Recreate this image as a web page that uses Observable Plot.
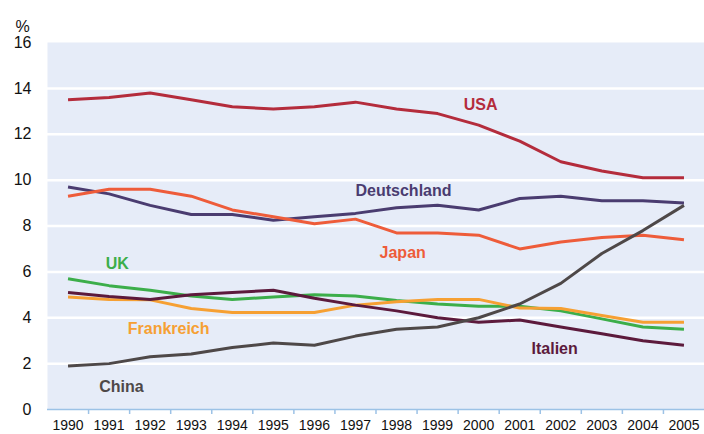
<!DOCTYPE html>
<html>
<head>
<meta charset="utf-8">
<script src="https://cdn.jsdelivr.net/npm/d3@7"></script>
<script src="https://cdn.jsdelivr.net/npm/@observablehq/plot@0.6"></script>
<style>
  html, body { margin: 0; padding: 0; background: #fff; }
  svg { font-family: "Liberation Sans", Arial, sans-serif; }
</style>
</head>
<body>
<div id="chart"></div>
<script>
const years = [1990,1991,1992,1993,1994,1995,1996,1997,1998,1999,2000,2001,2002,2003,2004,2005];
const usa         = [13.5,13.6,13.8,13.5,13.2,13.1,13.2,13.4,13.1,12.9,12.4,11.7,10.8,10.4,10.1,10.1];
const deutschland = [9.7,9.4,8.9,8.5,8.5,8.25,8.4,8.55,8.8,8.9,8.7,9.2,9.3,9.1,9.1,9.0];
const japan       = [9.3,9.6,9.6,9.3,8.7,8.4,8.1,8.3,7.7,7.7,7.6,7.0,7.3,7.5,7.6,7.4];
const uk          = [5.7,5.4,5.2,4.95,4.8,4.9,5.0,4.95,4.75,4.6,4.5,4.5,4.3,3.95,3.6,3.5];
const frankreich  = [4.9,4.8,4.78,4.4,4.23,4.23,4.23,4.55,4.7,4.8,4.8,4.42,4.4,4.1,3.8,3.8];
const italien     = [5.1,4.93,4.8,5.0,5.1,5.2,4.85,4.55,4.3,4.0,3.8,3.9,3.6,3.3,3.0,2.8];
const china       = [1.9,2.0,2.3,2.42,2.7,2.9,2.8,3.2,3.5,3.6,4.0,4.6,5.5,6.8,7.8,8.9];

const seriesNames  = ["USA","Deutschland","Japan","UK","Frankreich","Italien","China"];
const seriesValues = [usa, deutschland, japan, uk, frankreich, italien, china];
const seriesColors = ["#b42c3c","#4a3c70","#ee5c3a","#3cae4a","#f6a033","#5c1a3c","#4e4848"];

// label anchors (year, value) per series
const labelYears  = [2000.05, 1998.17, 1998.15, 1991.2, 1992.45, 2001.85, 1991.3];
const labelValues = [13.3, 9.55, 6.85, 6.35, 3.5, 2.65, 1.0];

const yTicks = [0,2,4,6,8,10,12,14,16];
const gridValues = [2,4,6,8,10,12,14];

const rows = seriesNames.flatMap((name, i) =>
  years.map((year, j) => ({name, year, value: seriesValues[i][j]})));
const labels = seriesNames.map((name, i) => ({name, x: labelYears[i], y: labelValues[i]}));
const boundaries = years.slice(0, -1).map(y => y + 0.5);

const chart = Plot.plot({
  width: 704,
  height: 434,
  marginTop: 42,
  marginBottom: 25,
  marginLeft: 47,
  marginRight: 0,
  style: {fontFamily: '"Liberation Sans", Arial, sans-serif', background: "#fff", overflow: "visible"},
  x: {domain: [1989.5, 2005.5]},
  y: {domain: [0, 16]},
  color: {domain: seriesNames, range: seriesColors},
  marks: [
    Plot.frame({fill: "#e6ecf8", stroke: null}),
    Plot.ruleY(gridValues, {stroke: "#ffffff", strokeWidth: 2.5}),
    Plot.ruleY([0], {stroke: "#9cc2e6", strokeWidth: 1.5}),
    Plot.axisX(boundaries, {tickSize: 5, tickFormat: () => "", stroke: "#9cc2e6", strokeWidth: 1.5, label: null}),
    Plot.axisX(years, {tickSize: 0, tickPadding: 11, tickFormat: d => String(d), fontSize: 14, fill: "#111", label: null}),
    Plot.axisY(yTicks, {tickSize: 0, tickPadding: 16, fontSize: 16, fill: "#111", label: null}),
    Plot.text(["%"], {frameAnchor: "top-left", dx: -32, dy: -22, fontSize: 16, fill: "#111", textAnchor: "start"}),
    Plot.line(rows, {x: "year", y: "value", z: "name", stroke: "name", strokeWidth: 3, strokeLinejoin: "miter", strokeLinecap: "butt"}),
    Plot.text(labels, {x: "x", y: "y", text: "name", fill: "name", fontSize: 16, fontWeight: "bold", textAnchor: "middle", lineAnchor: "middle"})
  ]
});
document.getElementById("chart").appendChild(chart);
</script>
</body>
</html>
